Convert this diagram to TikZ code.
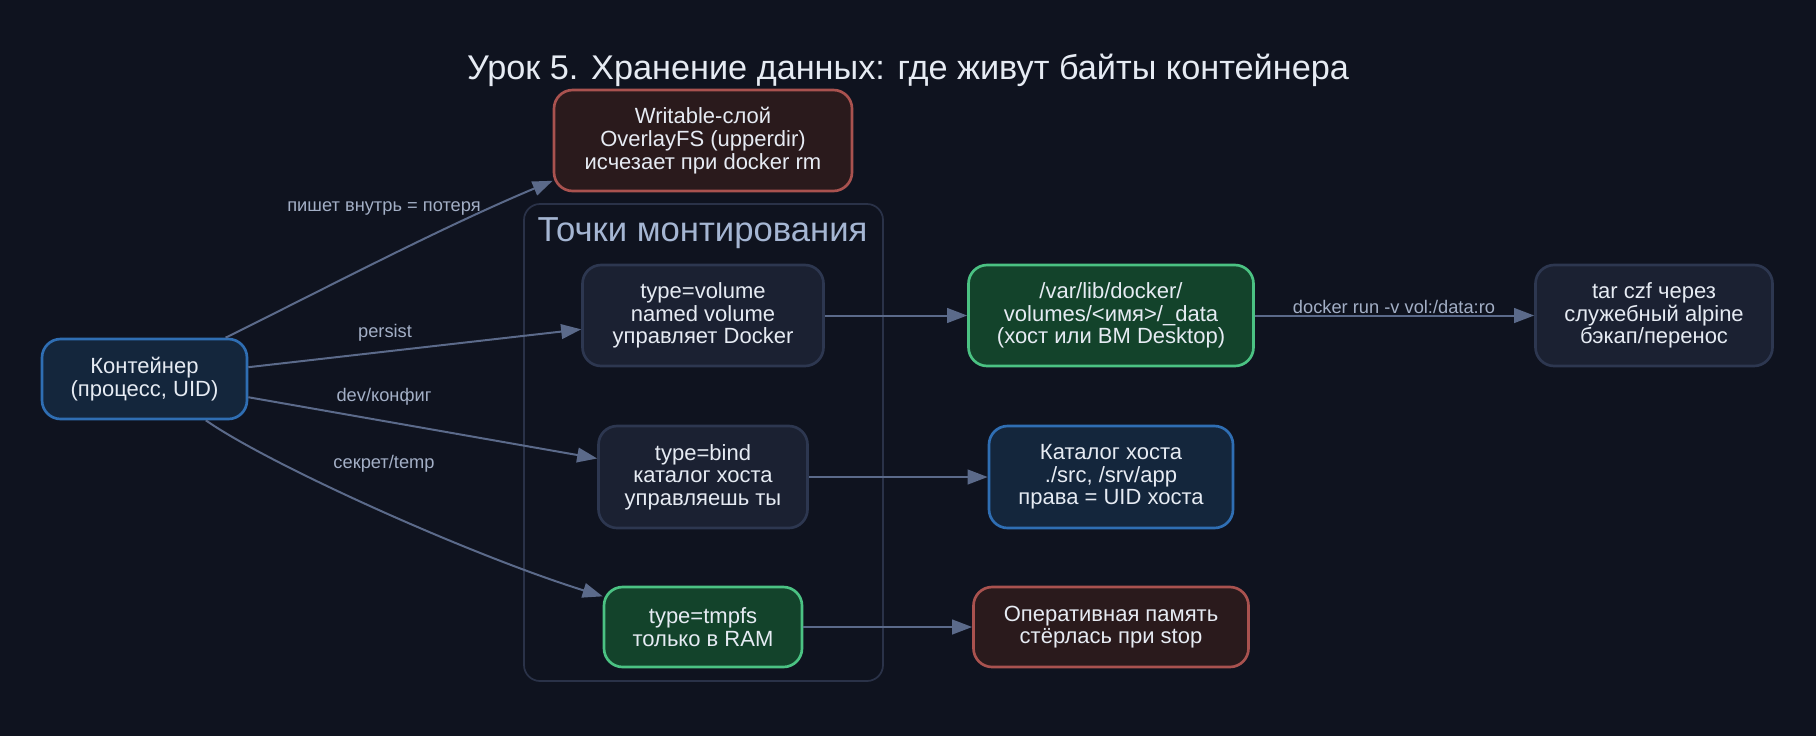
\documentclass[tikz,border=0pt]{standalone}
\usepackage{fontspec}
\setmainfont{Liberation Sans}
\usetikzlibrary{arrows.meta, positioning}

\definecolor{bgc}{HTML}{0F131F}
\definecolor{edgec}{HTML}{5B6A8A}
\definecolor{lblc}{HTML}{A3AFC6}
\definecolor{txtc}{HTML}{E6EBF3}
\definecolor{blufill}{HTML}{14263C}
\definecolor{bludraw}{HTML}{2F6EB3}
\definecolor{redfill}{HTML}{2A1A1C}
\definecolor{reddraw}{HTML}{A9524F}
\definecolor{grnfill}{HTML}{13432B}
\definecolor{grndraw}{HTML}{4BC283}
\definecolor{gryfill}{HTML}{1B2132}
\definecolor{grydraw}{HTML}{2D3750}
\definecolor{clusdraw}{HTML}{2A3248}
\definecolor{cluslbl}{HTML}{A5B6D3}

\begin{document}
\begin{tikzpicture}[x=0.75pt, y=-0.75pt, >={Triangle[length=15pt, width=11pt]},
    every node/.style={font=\fontsize{16.5}{17}\selectfont, text=txtc, align=center},
    box/.style={draw, rounded corners=14pt, line width=2pt, inner sep=0pt},
    blubox/.style={box, fill=blufill, draw=bludraw},
    redbox/.style={box, fill=redfill, draw=reddraw},
    grnbox/.style={box, fill=grnfill, draw=grndraw},
    grybox/.style={box, fill=gryfill, draw=grydraw},
    edge/.style={->, draw=edgec, line width=1.5pt},
    lbl/.style={font=\fontsize{13.7}{15}\selectfont, text=lblc, inner sep=0pt}]
        % фон
        \fill[bgc] (0,0) rectangle (1816,736);
        \useasboundingbox (0,0) rectangle (1816,736);

        % заголовок и кластер
        \node[anchor=base, font=\fontsize{25.7}{30}\selectfont, text=txtc] (title) at (908,79) {Урок 5. Хранение данных: где живут байты контейнера};
        \node[draw=clusdraw, line width=1.3pt, rounded corners=12pt, minimum width=269.25pt, minimum height=357.75pt] (mounts) at (703.5,442.5) {};
        \node[anchor=base, font=\fontsize{26}{30}\selectfont, text=cluslbl] (mountslbl) at (702.5,241.7) {Точки монтирования};

        % узлы
        \node[blubox, minimum width=153.75pt, minimum height=60pt] (container) at (144.5,379) {Контейнер\\(процесс, UID)};
        \node[redbox, minimum width=223.5pt, minimum height=75.75pt] (writable) at (703,140.5) {Writable-слой\\OverlayFS (upperdir)\\исчезает при docker rm};
        \node[grybox, minimum width=180.75pt, minimum height=75.75pt] (volume) at (703,315.5) {type=volume\\named volume\\управляет Docker};
        \node[grybox, minimum width=156.75pt, minimum height=76.5pt] (bind) at (703,477) {type=bind\\каталог хоста\\управляешь ты};
        \node[grnbox, minimum width=148.5pt, minimum height=60pt] (tmpfs) at (703,627) {type=tmpfs\\только в RAM};
        \node[grnbox, minimum width=213.75pt, minimum height=75.75pt] (varlib) at (1111,315.5) {/var/lib/docker/\\volumes/<имя>/\_data\\(хост или ВМ Desktop)};
        \node[blubox, minimum width=183pt, minimum height=76.5pt] (hostdir) at (1111,477) {Каталог хоста\\./src, /srv/app\\права = UID хоста};
        \node[redbox, minimum width=206.25pt, minimum height=60pt] (ram) at (1111,627) {Оперативная память\\стёрлась при stop};
        \node[grybox, minimum width=177.75pt, minimum height=75.75pt] (tar) at (1654,315.5) {tar czf через\\служебный alpine\\бэкап/перенос};

        % стрелки
        \draw[edge] (container.27) .. controls (330,286) and (440,228) .. (writable.195) node[lbl] (lwrite) at (384,208) {пишет внутрь = потеря};
        \draw[edge] (container) -- (volume) node[lbl] (lpersist) at (385,333) {persist};
        \draw[edge] (container) -- (bind) node[lbl] (ldev) at (384,397) {dev/конфиг};
        \draw[edge] (container.-34) .. controls (270,465) and (470,555) .. (tmpfs.163) node[lbl] (lsecret) at (384,464) {секрет/temp};
        \draw[edge] (volume) -- (varlib);
        \draw[edge] (bind) -- (hostdir);
        \draw[edge] (tmpfs) -- (ram);
        \draw[edge] (varlib) -- (tar) node[lbl] (lbackup) at (1394,307) {docker run -v vol:/data:ro};
\end{tikzpicture}
\end{document}
